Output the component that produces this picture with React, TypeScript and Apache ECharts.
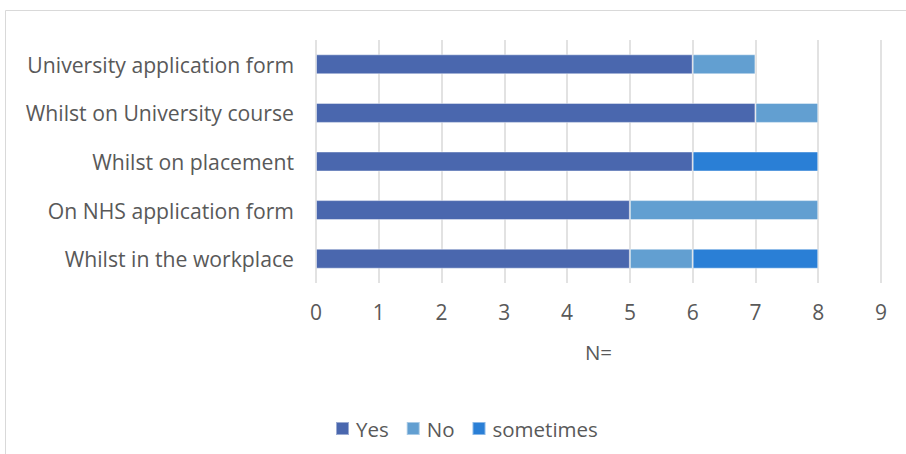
import React, { useEffect, useRef } from "react";
import * as echarts from "echarts";

const categories = [
  "University application form",
  "Whilst on University course",
  "Whilst on placement",
  "On NHS application form",
  "Whilst in the workplace",
];
const yesValues = [6, 7, 6, 5, 5];
const noValues = [1, 1, 0, 3, 1];
const sometimesValues = [0, 0, 2, 0, 2];
const xTicks = [0, 1, 2, 3, 4, 5, 6, 7, 8, 9];

const FONT = "'Open Sans', 'Liberation Sans', sans-serif";
const TEXT = "#595959";

export default function App() {
  const ref = useRef<HTMLDivElement>(null);
  useEffect(() => {
    if (!ref.current) return;
    const chart = echarts.init(ref.current, undefined, { renderer: "svg" });
    const mk = (name: string, data: number[], color: string) => ({
      name,
      type: "bar",
      stack: "total",
      barWidth: 20,
      data: data.map((v) => (v === 0 ? null : v)),
      itemStyle: { color, borderColor: "rgba(255,255,255,0.45)", borderWidth: 1 },
    });
    chart.setOption({
      animation: false,
      textStyle: { fontFamily: FONT },
      graphic: [
        {
          type: "rect",
          shape: { x: 5.5, y: 10.5, width: 920, height: 470 },
          style: { fill: "none", stroke: "#d9d9d9", lineWidth: 1 },
          silent: true,
        },
      ],
      grid: { left: 316, right: 25, top: 40, bottom: 171, containLabel: false },
      xAxis: {
        type: "value",
        min: xTicks[0],
        max: xTicks[xTicks.length - 1],
        interval: 1,
        name: "N=",
        nameLocation: "middle",
        nameGap: 58,
        nameTextStyle: { color: TEXT, fontSize: 20.5, fontFamily: FONT },
        axisLine: { show: false },
        axisTick: { show: false },
        axisLabel: { color: TEXT, fontSize: 21, margin: 18, fontFamily: FONT },
        splitLine: { show: true, lineStyle: { color: "#d9d9d9", width: 1.5 } },
      },
      yAxis: {
        type: "category",
        data: categories,
        inverse: true,
        axisLine: { show: false },
        axisTick: { show: false },
        axisLabel: { color: TEXT, fontSize: 21.2, margin: 22, fontFamily: FONT },
      },
      legend: {
        top: 413,
        left: 330,
        itemWidth: 13,
        itemHeight: 13,
        itemGap: 17,
        icon: "rect",
        textStyle: { color: TEXT, fontSize: 20.5, fontFamily: FONT, padding: [0, 0, 0, 2] },
        data: ["Yes", "No", "sometimes"],
      },
      series: [
        mk("Yes", yesValues, "#4a67ae"),
        mk("No", noValues, "#629fd1"),
        mk("sometimes", sometimesValues, "#2a7fd6"),
      ],
    });
    return () => chart.dispose();
  }, []);
  return (
    <div
      ref={ref}
      style={{ position: "absolute", left: 0, top: 0, width: 906, height: 454, background: "#fff" }}
    />
  );
}
